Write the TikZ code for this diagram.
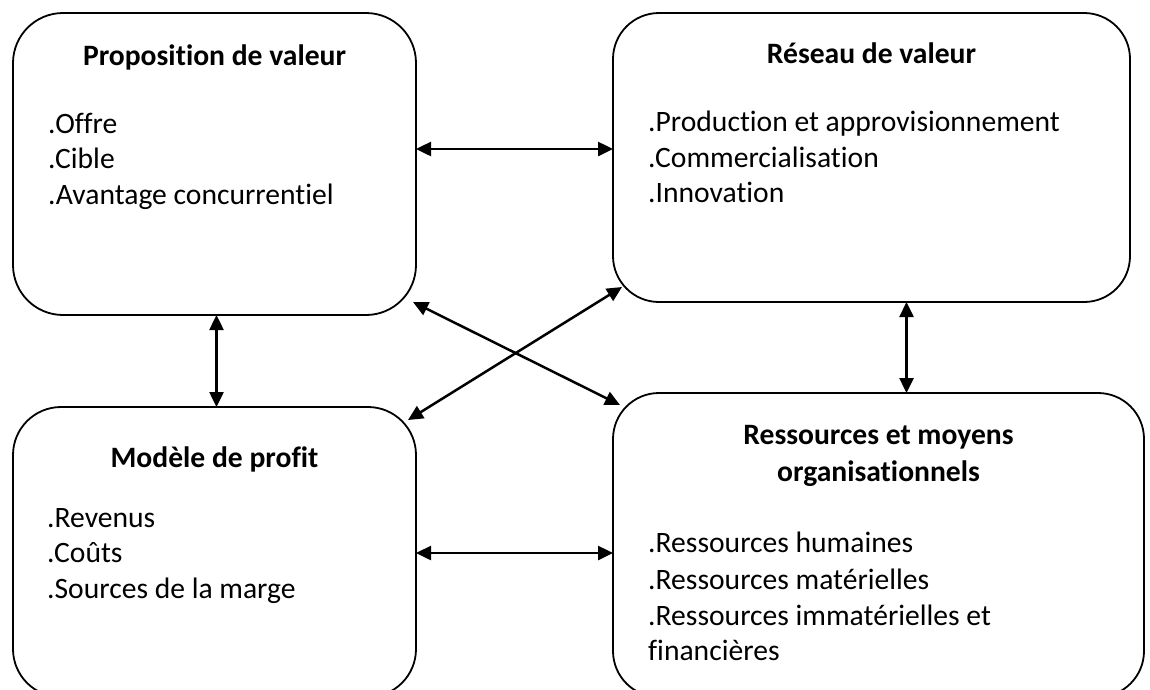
\documentclass[tikz,border=0pt]{standalone}
\usepackage{fontspec}
\setmainfont{Carlito}[Ligatures={NoCommon}]
\usetikzlibrary{arrows.meta,calc}
\tikzset{
  boxshape/.style={draw=black, line width=1.8pt, rectangle, inner sep=0pt, outer sep=0pt},
  arr/.style={line width=2.5pt, {Triangle[length=15pt,width=14pt]}-{Triangle[length=15pt,width=14pt]}},
  ttl/.style={anchor=base, inner sep=0pt, font=\fontsize{29.6}{35.7}\selectfont\bfseries},
  itm/.style={anchor=base west, inner sep=0pt, font=\fontsize{29.6}{35.7}\selectfont}
}
\begin{document}
\begin{tikzpicture}[x=1pt,y=-1pt]
\path[use as bounding box, fill=white] (0,0) rectangle (1150,689);
\begin{scope}
\clip (0,0) rectangle (1150,689);
% boxes
\node[boxshape, rounded corners=50pt, minimum width=403pt, minimum height=302pt] (pv) at (214.5,164) {};
\node[boxshape, rounded corners=46pt, minimum width=517pt, minimum height=289pt] (rv) at (871.5,157.5) {};
\node[boxshape, rounded corners=48pt, minimum width=403pt, minimum height=290pt] (mp) at (214.5,552) {};
\node[boxshape, rounded corners=46pt, minimum width=531pt, minimum height=304pt] (rm) at (878.5,545) {};
\end{scope}
% texts
\node[ttl] (pvt) at (214.5,65) {Proposition de valeur};
\node[itm] (pv1) at (48,133) {.Offre};
\node[itm] (pv2) at (48,168.5) {.Cible};
\node[itm] (pv3) at (48,204) {.Avantage concurrentiel};
\node[ttl] (rvt) at (871.5,63.5) {Réseau de valeur};
\node[itm] (rv1) at (648,131.5) {.Production et approvisionnement};
\node[itm] (rv2) at (648,167) {.Commercialisation};
\node[itm] (rv3) at (648,202.5) {.Innovation};
\node[ttl] (mpt) at (214.5,467) {Modèle de profit};
\node[itm] (mp1) at (47,527) {.Revenus};
\node[itm] (mp2) at (47,562.5) {.Coûts};
\node[itm] (mp3) at (47,598) {.Sources de la marge};
\node[ttl] (rmt1) at (878.5,444.5) {Ressources et moyens};
\node[ttl] (rmt2) at (878.5,481) {organisationnels};
\node[itm] (rm1) at (648,552.5) {.Ressources humaines};
\node[itm] (rm2) at (648,589) {.Ressources matérielles};
\node[itm] (rm3) at (648,625) {.Ressources immatérielles et};
\node[itm] (rm4) at (648,660.5) {financières};
% helper coordinates
\coordinate (ytop) at (0,149);
\coordinate (ybot) at (0,553);
\coordinate (xleft) at (216.5,0);
\coordinate (xright) at (906.5,0);
% connectors
\draw[arr] (pv.east |- ytop) -- (rv.west |- ytop);
\draw[arr] (mp.east |- ybot) -- (rm.west |- ybot);
\draw[arr] (pv.south -| xleft) -- (mp.north -| xleft);
\draw[arr] (rv.south -| xright) -- (rm.north -| xright);
\draw[arr] ($(pv.south east)+(-3,-13)$) -- ($(rm.north west)+(7,12)$);
\draw[arr] ($(mp.north east)+(-8,13)$) -- ($(rv.south west)+(9,-15)$);
\end{tikzpicture}
\end{document}
